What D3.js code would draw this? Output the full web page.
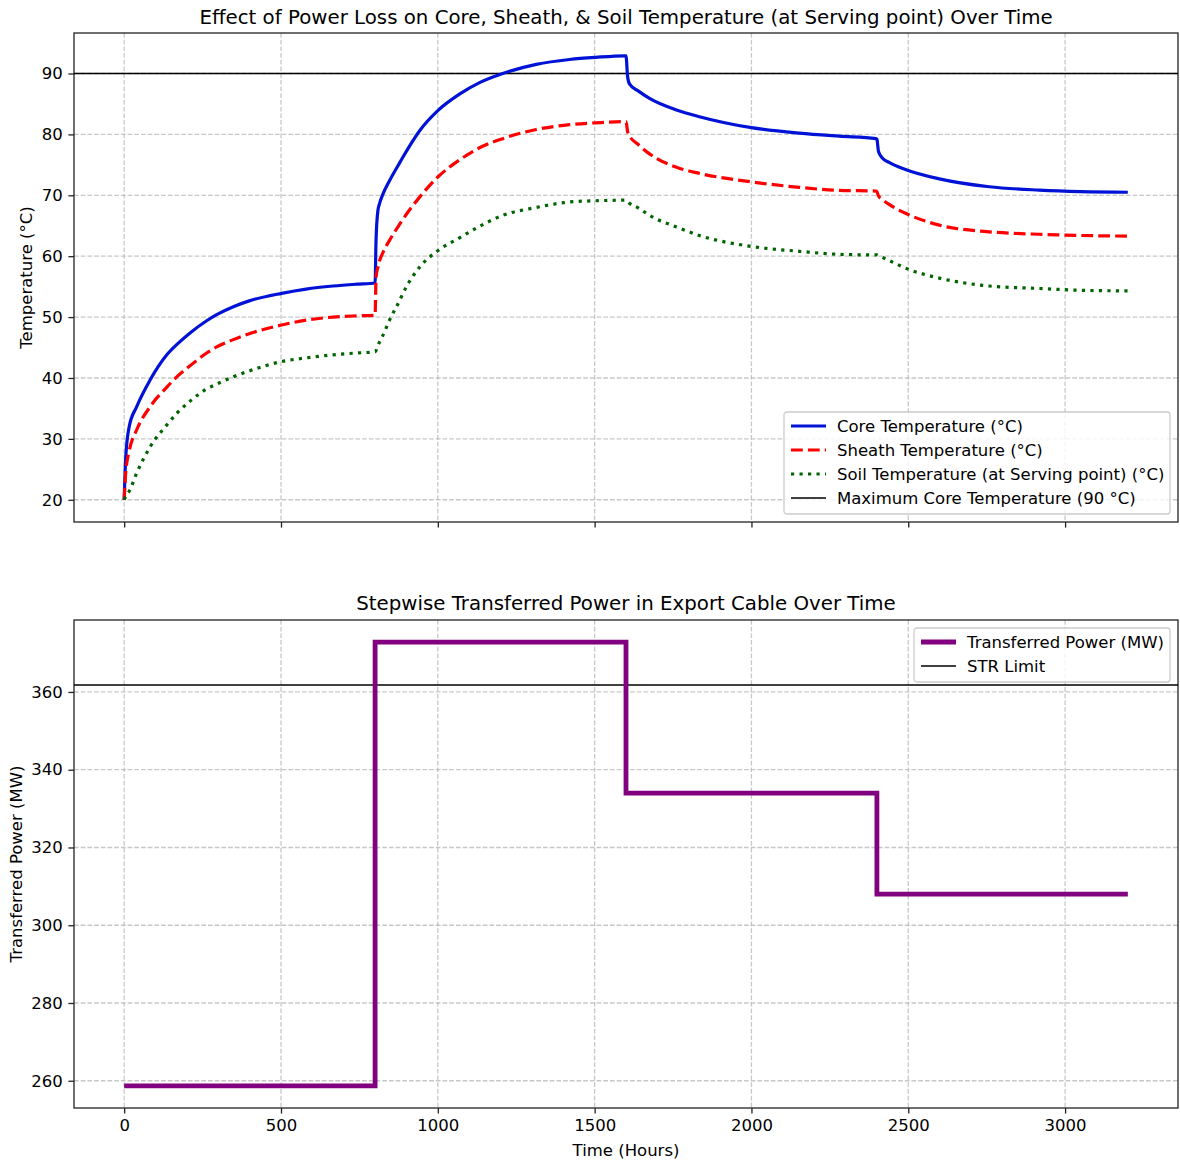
<!DOCTYPE html>
<html>
<head>
<meta charset="utf-8">
<script src="https://cdn.jsdelivr.net/npm/d3@7"></script>
<style>
	body { margin: 0; background: #fff; }
	text { font-family: "DejaVu Sans", sans-serif; fill: #000; }
</style>
</head>
<body>
<div id="chart-area"></div>
<script>
// sampled hours for the temperature curves
const timeHours = [0, 5, 16, 40, 83, 136, 170, 210, 263, 295, 348, 401, 502, 580, 666, 740, 800,
	803, 809, 814, 825, 846, 879, 888, 942, 1000, 1069, 1133, 1207, 1314, 1420, 1503, 1595, 1600,
	1605, 1611, 1640, 1675, 1761, 1834, 2000, 2153, 2280, 2397, 2400,
	2405, 2418, 2439, 2493, 2599, 2758, 2917, 3050, 3200]

const coreTemp = [20, 27, 32, 35.3, 39.7, 43.8, 45.6, 47.4, 49.4, 50.4, 51.7, 52.7, 53.9, 54.6, 55.1, 55.4, 55.6,
	62.6, 67.5, 68.6, 70.2, 72.4, 75.4, 76.2, 80.6, 83.9, 86.6, 88.5, 90, 91.5, 92.3, 92.65, 92.9, 92.9,
	89.5, 88.3, 87.1, 85.9, 84.0, 82.9, 81.1, 80.2, 79.7, 79.3, 79.2,
	77.2, 76.1, 75.4, 74.2, 72.7, 71.4, 70.85, 70.6, 70.5]

const sheathTemp = [20, 24.5, 28, 31.5, 35.3, 38.5, 40.3, 42, 44.1, 45.1, 46.3, 47.3, 48.7, 49.5, 50, 50.2, 50.3,
	56.5, 58.2, 59.2, 60.6, 62.6, 65.3, 66.0, 69.7, 73, 75.8, 77.8, 79.3, 80.8, 81.6, 81.9, 82.1, 82.1,
	80.5, 79.8, 78.3, 76.8, 74.6, 73.6, 72.2, 71.3, 70.8, 70.7, 70.6,
	69.9, 69.3, 68.5, 67, 65.1, 64, 63.6, 63.4, 63.3]

const soilTemp = [20, 20.6, 21.4, 24.4, 28.7, 32.3, 34.3, 36.2, 38.2, 39, 40.2, 41.2, 42.7, 43.3, 43.8, 44.1, 44.3,
	44.5, 45.3, 45.9, 47, 49.5, 52.8, 53.8, 58.2, 60.9, 63, 64.9, 66.7, 68, 68.9, 69.1, 69.2, 69.2,
	69, 68.7, 67.9, 66.7, 64.8, 63.4, 61.6, 60.8, 60.3, 60.2, 60.2,
	60.1, 59.8, 59.3, 58, 56.4, 55.1, 54.7, 54.4, 54.3]

const maxCoreTemp = 90

// stepwise power
const stepHours = [0, 800, 1600, 2400, 3200]
const powerMW = [258.7, 372.8, 334, 308, 308]
const strLimit = 361.8

const xTicks = [0, 500, 1000, 1500, 2000, 2500, 3000]
const tempTicks = [20, 30, 40, 50, 60, 70, 80, 90]
const powerTicks = [260, 280, 300, 320, 340, 360]

const WIDTH = 1180
const HEIGHT = 1164
const PLOT_LEFT = 74
const PLOT_RIGHT = 1178
const TOP_PANEL = {TOP: 33, BOTTOM: 522}
const BOTTOM_PANEL = {TOP: 620, BOTTOM: 1108}
const TICK = 5.6
const FONT = "16.5px"
const TITLE_FONT = "19.8px"

const svg = d3.select("#chart-area").append("svg")
	.attr("width", WIDTH)
	.attr("height", HEIGHT)
	.style("background", "#fff")

const pad = (lo, hi) => [lo - (hi - lo) * 0.05, hi + (hi - lo) * 0.05]

const x = d3.scaleLinear()
	.domain(pad(0, 3200))
	.range([PLOT_LEFT, PLOT_RIGHT])

function drawPanel(panel, yDomain, yTicks, showXLabels) {
	const y = d3.scaleLinear().domain(yDomain).range([panel.BOTTOM, panel.TOP])
	const g = svg.append("g")
	const h = panel.BOTTOM - panel.TOP

	// grid
	g.append("g")
		.selectAll("line.vgrid")
		.data(xTicks)
		.enter().append("line")
		.attr("x1", d => x(d)).attr("x2", d => x(d))
		.attr("y1", panel.TOP).attr("y2", panel.BOTTOM)
		.attr("stroke", "#b0b0b0").attr("stroke-opacity", 0.7)
		.attr("stroke-width", 1.3).attr("stroke-dasharray", "4.7,2")
	g.append("g")
		.selectAll("line.hgrid")
		.data(yTicks)
		.enter().append("line")
		.attr("x1", PLOT_LEFT).attr("x2", PLOT_RIGHT)
		.attr("y1", d => y(d)).attr("y2", d => y(d))
		.attr("stroke", "#b0b0b0").attr("stroke-opacity", 0.7)
		.attr("stroke-width", 1.3).attr("stroke-dasharray", "4.7,2")

	const xAxisCall = d3.axisBottom(x)
		.tickValues(xTicks)
		.tickSize(TICK)
		.tickPadding(5.6)
		.tickFormat(showXLabels ? d3.format("d") : "")
	const xa = g.append("g")
		.attr("transform", `translate(0, ${panel.BOTTOM})`)
		.call(xAxisCall)

	const yAxisCall = d3.axisLeft(y)
		.tickValues(yTicks)
		.tickSize(TICK)
		.tickPadding(5.6)
		.tickFormat(d3.format("d"))
	const ya = g.append("g")
		.attr("transform", `translate(${PLOT_LEFT}, 0)`)
		.call(yAxisCall)

	;[xa, ya].forEach(a => {
		a.select(".domain").remove()
		a.selectAll(".tick line").attr("stroke", "#222").attr("stroke-width", 1.3)
		a.selectAll(".tick text").attr("font-size", FONT).attr("fill", "#000")
			.attr("font-family", "DejaVu Sans")
	})

	// frame
	g.append("rect")
		.attr("x", PLOT_LEFT).attr("y", panel.TOP)
		.attr("width", PLOT_RIGHT - PLOT_LEFT).attr("height", h)
		.attr("fill", "none").attr("stroke", "#222").attr("stroke-width", 1.3)

	return {g, y}
}

function drawLegend(g, items, box) {
	const lg = g.append("g").attr("transform", `translate(${box.x}, ${box.y})`)
	lg.append("rect")
		.attr("width", box.w).attr("height", box.h)
		.attr("rx", 3)
		.attr("fill", "#fff").attr("fill-opacity", 0.8)
		.attr("stroke", "#cccccc").attr("stroke-width", 1.3)
	items.forEach((it, i) => {
		const cy = 14 + i * 24
		lg.append("line")
			.attr("x1", 7).attr("x2", 42)
			.attr("y1", cy).attr("y2", cy)
			.attr("stroke", it.color).attr("stroke-width", it.width)
			.attr("stroke-dasharray", it.dash || null)
		lg.append("text")
			.attr("x", 53).attr("y", cy + 6)
			.attr("font-size", FONT)
			.text(it.label)
	})
}

// ---------- top panel ----------
const tempPanel = drawPanel(TOP_PANEL, pad(20, 93), tempTicks, false)

tempPanel.g.append("line")
	.attr("x1", PLOT_LEFT).attr("x2", PLOT_RIGHT)
	.attr("y1", tempPanel.y(maxCoreTemp)).attr("y2", tempPanel.y(maxCoreTemp))
	.attr("stroke", "#000").attr("stroke-width", 1.6)

const tempLine = vals => d3.line()
	.x((d, i) => x(timeHours[i]))
	.y(d => tempPanel.y(d))
	.curve(d3.curveMonotoneX)(vals)

const series = [
	{vals: coreTemp, color: "#0012d6", dash: null, label: "Core Temperature (°C)"},
	{vals: sheathTemp, color: "#ff0000", dash: "11.8,5.1", label: "Sheath Temperature (°C)"},
	{vals: soilTemp, color: "#006400", dash: "3.2,5.3", label: "Soil Temperature (at Serving point) (°C)"}
]
series.forEach(s => {
	tempPanel.g.append("path")
		.attr("d", tempLine(s.vals))
		.attr("fill", "none")
		.attr("stroke", s.color)
		.attr("stroke-width", 3.2)
		.attr("stroke-dasharray", s.dash)
})

drawLegend(tempPanel.g, [
	{color: "#0012d6", width: 3.2, label: series[0].label},
	{color: "#ff0000", width: 3.2, dash: "11.8,5.1", label: series[1].label},
	{color: "#006400", width: 3.2, dash: "3.2,5.3", label: series[2].label},
	{color: "#000", width: 1.6, label: "Maximum Core Temperature (90 °C)"}
], {x: 784, y: 412, w: 386, h: 102})

svg.append("text")
	.attr("x", (PLOT_LEFT + PLOT_RIGHT) / 2).attr("y", 24)
	.attr("text-anchor", "middle").attr("font-size", TITLE_FONT)
	.text("Effect of Power Loss on Core, Sheath, & Soil Temperature (at Serving point) Over Time")

svg.append("text")
	.attr("transform", "rotate(-90)")
	.attr("x", -(TOP_PANEL.TOP + TOP_PANEL.BOTTOM) / 2).attr("y", 32)
	.attr("text-anchor", "middle").attr("font-size", FONT)
	.text("Temperature (°C)")

// ---------- bottom panel ----------
const powerPanel = drawPanel(BOTTOM_PANEL, pad(258.7, 372.8), powerTicks, true)

powerPanel.g.append("line")
	.attr("x1", PLOT_LEFT).attr("x2", PLOT_RIGHT)
	.attr("y1", powerPanel.y(strLimit)).attr("y2", powerPanel.y(strLimit))
	.attr("stroke", "#000").attr("stroke-width", 1.6)

powerPanel.g.append("path")
	.attr("d", d3.line()
		.x((d, i) => x(stepHours[i]))
		.y(d => powerPanel.y(d))
		.curve(d3.curveStepAfter)(powerMW))
	.attr("fill", "none")
	.attr("stroke", "#800080")
	.attr("stroke-width", 4.8)

drawLegend(powerPanel.g, [
	{color: "#800080", width: 4.8, label: "Transferred Power (MW)"},
	{color: "#000", width: 1.6, label: "STR Limit"}
], {x: 914, y: 628, w: 256, h: 54})

svg.append("text")
	.attr("x", (PLOT_LEFT + PLOT_RIGHT) / 2).attr("y", 610)
	.attr("text-anchor", "middle").attr("font-size", TITLE_FONT)
	.text("Stepwise Transferred Power in Export Cable Over Time")

svg.append("text")
	.attr("transform", "rotate(-90)")
	.attr("x", -(BOTTOM_PANEL.TOP + BOTTOM_PANEL.BOTTOM) / 2).attr("y", 22)
	.attr("text-anchor", "middle").attr("font-size", FONT)
	.text("Transferred Power (MW)")

svg.append("text")
	.attr("x", (PLOT_LEFT + PLOT_RIGHT) / 2).attr("y", 1156)
	.attr("text-anchor", "middle").attr("font-size", FONT)
	.text("Time (Hours)")
</script>
</body>
</html>
